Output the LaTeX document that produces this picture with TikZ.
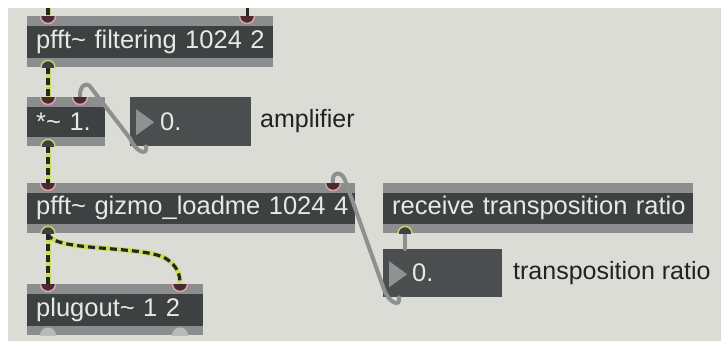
\documentclass[tikz,border=0pt]{standalone}
\usepackage{fontspec}
\setmainfont{Liberation Sans}
\usetikzlibrary{calc}
\definecolor{bgc}{HTML}{DCDCD6}
\definecolor{stripc}{HTML}{8B8D8E}
\definecolor{darkc}{HTML}{3D4141}
\definecolor{numc}{HTML}{4A4E4E}
\definecolor{trc}{HTML}{8E9292}
\definecolor{txtc}{HTML}{E8E8E8}
\definecolor{inrim}{HTML}{DCA2A4}
\definecolor{infill}{HTML}{4A2A32}
\definecolor{outrim}{HTML}{C9D36C}
\definecolor{limec}{HTML}{CADF62}
\definecolor{cablec}{HTML}{8E9090}
\definecolor{labc}{HTML}{222222}
\tikzset{
  maxobj/.style={anchor=north west, fill=stripc, inner xsep=9pt, inner ysep=0pt,
    font=\fontsize{25.5}{28}\selectfont, text=txtc, align=left,
    path picture={\fill[darkc] ([yshift=-10pt]path picture bounding box.north west) rectangle ([yshift=9pt]path picture bounding box.south east);}},
  numbox/.style={anchor=north west, fill=numc, inner xsep=9pt, inner ysep=0pt,
    font=\fontsize{25.5}{28}\selectfont, text=txtc, align=left,
    path picture={\fill[trc] ([xshift=6pt,yshift=-12pt]path picture bounding box.north west) -- ++(0,-26pt) -- ++(18pt,13pt) -- cycle;}},
  lab/.style={anchor=west, font=\fontsize{25}{28}\selectfont, text=labc, inner sep=0pt},
  sigbase/.style={line width=5pt, limec},
  sigdash/.style={line width=3.2pt, black!85, dash pattern=on 7pt off 4pt},
  ctrl/.style={line width=4pt, cablec, line cap=round},
  inl/.style={draw=inrim, fill=infill, line width=1.5pt},
  outl/.style={draw=outrim, fill=darkc, line width=1.5pt},
  grayout/.style={fill=stripc!60!white},
}
\begin{document}
\begin{tikzpicture}[x=1pt,y=-1pt]
\useasboundingbox (0,0) rectangle (721,343);
\fill[white] (0,0) rectangle (721,343);
\fill[bgc] (8,8) rectangle (721,341);

% boxes
\node[maxobj, text width=228pt, minimum height=51pt] (b1) at (27,16) {\mbox{pfft\textasciitilde{} filtering 1024 2}};
\node[maxobj, text width=60pt, minimum height=49pt] (b2) at (27,97) {\mbox{*\textasciitilde{} 1.}};
\node[numbox, text width=103pt, minimum height=49pt] (n1) at (130,97) {\mbox{\hspace*{21pt}0.}};
\node[maxobj, text width=310pt, minimum height=50pt] (b3) at (27,183) {\mbox{pfft\textasciitilde{} gizmo\_loadme 1024 4}};
\node[maxobj, text width=158pt, minimum height=51pt] (b4) at (27,284) {\mbox{plugout\textasciitilde{} 1 2}};
\node[maxobj, text width=292pt, minimum height=50pt] (b5) at (383,183) {\mbox{receive transposition ratio}};
\node[numbox, text width=101pt, minimum height=48pt] (n2) at (383,249) {\mbox{\hspace*{20pt}0.}};

\node[lab] (l1) at (260,121) {amplifier};
\node[lab] (l2) at (513,273) {transposition ratio};

% port coordinates
\coordinate (b1i1) at ($(b1.north west)+(21,0)$);
\coordinate (b1i2) at ($(b1.north west)+(220,0)$);
\coordinate (b1o1) at ($(b1.south west)+(21,0)$);
\coordinate (b2i1) at ($(b2.north west)+(21,0)$);
\coordinate (b2i2) at ($(b2.north west)+(53,0)$);
\coordinate (b2o1) at ($(b2.south west)+(21,0)$);
\coordinate (n1o) at ($(n1.south west)+(16,0)$);
\coordinate (b3i1) at ($(b3.north west)+(21,0)$);
\coordinate (b3i2) at ($(b3.north west)+(306,0)$);
\coordinate (b3o1) at ($(b3.south west)+(21,0)$);
\coordinate (b4i1) at ($(b4.north west)+(21,0)$);
\coordinate (b4i2) at ($(b4.north west)+(153,0)$);
\coordinate (b4o1) at ($(b4.south west)+(21,0)$);
\coordinate (b4o2) at ($(b4.south west)+(153,0)$);
\coordinate (b5o1) at ($(b5.south west)+(22,0)$);
\coordinate (n2i) at ($(n2.north west)+(22,0)$);
\coordinate (n2o) at ($(n2.south west)+(16,0)$);
\coordinate (top1) at (48,8);
\coordinate (top2) at (247,8);

% control cables
\draw[ctrl] (n1o) .. controls ($(n1o)+(2,10)$) and ($(n1o)+(-10,6)$) .. ($(n1o)+(-16,-8)$) -- (92,89) .. controls (87,80) and (79,86) .. (b2i2);
\draw[ctrl] (n2o) .. controls ($(n2o)+(2,10)$) and ($(n2o)+(-10,6)$) .. ($(n2o)+(-15,-8)$) -- (345,180) .. controls (341,170) and (331,172) .. (b3i2);
\draw[ctrl] (b5o1) -- (n2i);
\draw[line width=3pt, black!85] (top2) -- (b1i2);

% signal cables
\foreach \st in {sigbase, sigdash} {
  \draw[\st] (top1) -- (b1i1);
  \draw[\st] (b1o1) -- (b2i1);
  \draw[\st] (b2o1) -- (b3i1);
  \draw[\st] (b3o1) -- (b4i1);
  \draw[\st] (b3o1) .. controls (51,252) and (140,245) .. (165,258) .. controls (178,266) and (180,275) .. (b4i2);
}

% inlets and outlets
\begin{scope}
\clip (b1.north west) rectangle (b1.south east);
\draw[inl] (b1i1) circle (7.5pt); \draw[inl] (b1i2) circle (7.5pt);
\draw[outl] (b1o1) circle (7pt);
\end{scope}
\begin{scope}
\clip (b2.north west) rectangle (b2.south east);
\draw[inl] (b2i1) circle (7.5pt); \draw[inl] (b2i2) circle (7.5pt);
\draw[outl] (b2o1) circle (7pt);
\end{scope}
\begin{scope}
\clip (b3.north west) rectangle (b3.south east);
\draw[inl] (b3i1) circle (7.5pt); \draw[inl] (b3i2) circle (7.5pt);
\draw[outl] (b3o1) circle (7pt);
\end{scope}
\begin{scope}
\clip (b4.north west) rectangle (b4.south east);
\draw[inl] (b4i1) circle (7.5pt); \draw[inl] (b4i2) circle (7.5pt);
\fill[grayout] (b4o1) circle (8pt); \fill[grayout] (b4o2) circle (8pt);
\end{scope}
\begin{scope}
\clip (b5.north west) rectangle (b5.south east);
\draw[outl] (b5o1) circle (7pt);
\end{scope}
\end{tikzpicture}
\end{document}
